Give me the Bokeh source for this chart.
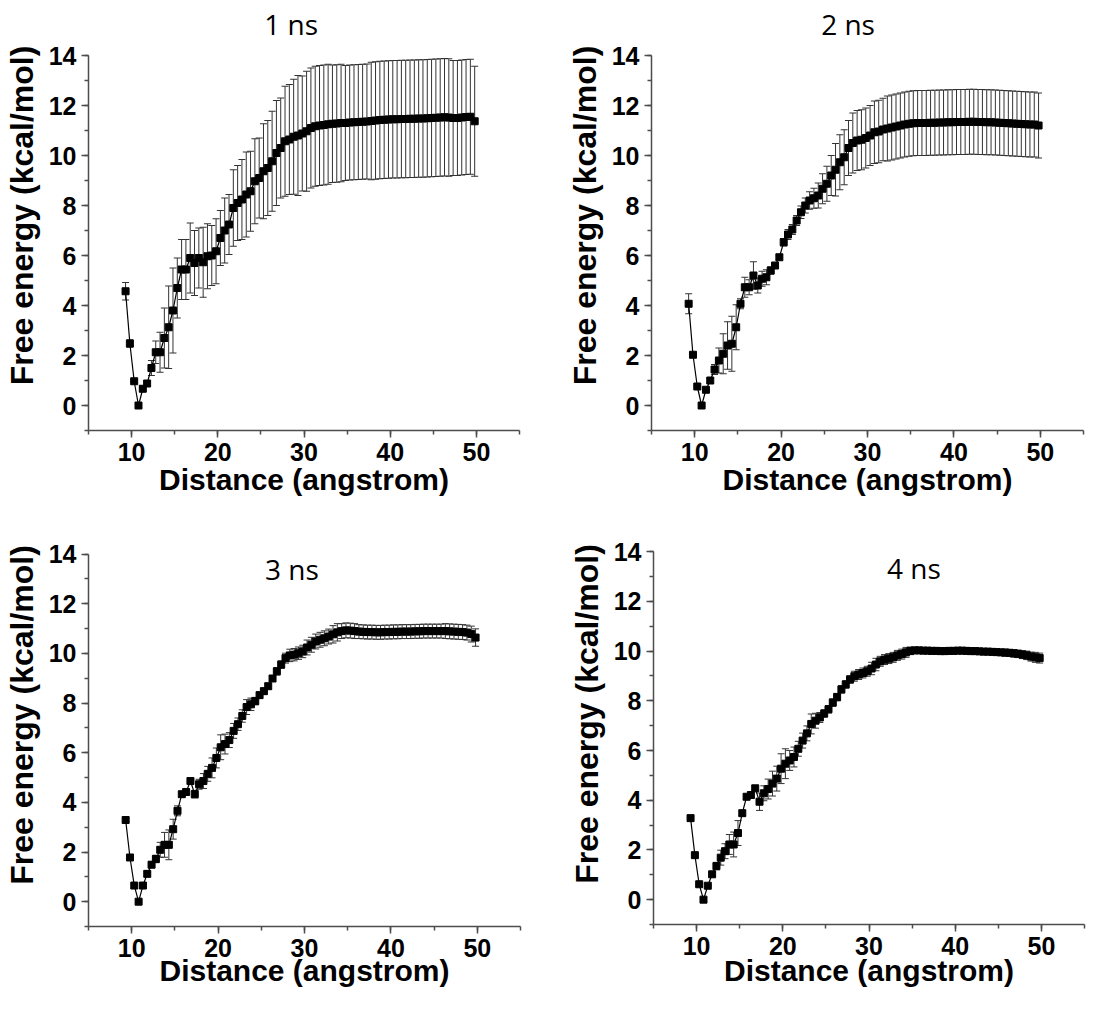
from bokeh.plotting import figure
from bokeh.models import (Range1d, SingleIntervalTicker, ColumnDataSource, Whisker,
                          TeeHead, Label)
from bokeh.layouts import row, column
from bokeh.embed import file_html
from bokeh.resources import INLINE

distance = [9.3, 9.8, 10.3, 10.8, 11.3, 11.8, 12.3, 12.8, 13.3, 13.8,
            14.3, 14.8, 15.3, 15.8, 16.3, 16.8, 17.3, 17.8, 18.3, 18.8,
            19.3, 19.8, 20.3, 20.8, 21.3, 21.8, 22.3, 22.8, 23.3, 23.8,
            24.3, 24.8, 25.3, 25.8, 26.3, 26.8, 27.3, 27.8, 28.3, 28.8,
            29.3, 29.8, 30.3, 30.8, 31.3, 31.8, 32.3, 32.8, 33.3, 33.8,
            34.3, 34.8, 35.3, 35.8, 36.3, 36.8, 37.3, 37.8, 38.3, 38.8,
            39.3, 39.8, 40.3, 40.8, 41.3, 41.8, 42.3, 42.8, 43.3, 43.8,
            44.3, 44.8, 45.3, 45.8, 46.3, 46.8, 47.3, 47.8, 48.3, 48.8,
            49.3, 49.8]

energy_1ns = [4.57, 2.48, 0.97, 0.0, 0.67, 0.88, 1.5, 2.13, 2.13, 2.7,
              3.13, 3.8, 4.7, 5.44, 5.44, 5.9, 5.7, 5.9, 5.73, 5.97,
              6.0, 6.17, 6.7, 7.0, 7.24, 7.9, 8.1, 8.24, 8.44, 8.57,
              8.97, 9.1, 9.37, 9.5, 9.77, 10.1, 10.3, 10.57, 10.64, 10.75,
              10.8, 10.88, 10.97, 11.1, 11.17, 11.2, 11.22, 11.25, 11.27, 11.28,
              11.3, 11.3, 11.32, 11.33, 11.34, 11.35, 11.36, 11.38, 11.4, 11.42,
              11.43, 11.44, 11.45, 11.45, 11.46, 11.46, 11.47, 11.47, 11.48, 11.48,
              11.49, 11.5, 11.51, 11.52, 11.53, 11.52, 11.5, 11.5, 11.52, 11.54,
              11.55, 11.37]
error_1ns = [0.35, 0.15, 0.05, 0.05, 0.08, 0.1, 0.3, 0.45, 0.8, 1.2,
             1.65, 1.7, 1.2, 1.2, 1.2, 1.4, 1.3, 1.2, 1.4, 1.3,
             1.2, 1.3, 1.1, 1.3, 1.2, 1.53, 1.5, 1.6, 1.7, 1.6,
             1.7, 1.6, 1.9, 1.9, 2.0, 2.1, 2.0, 2.2, 2.2, 2.3,
             2.4, 2.3, 2.4, 2.4, 2.4, 2.4, 2.4, 2.4, 2.35, 2.35,
             2.35, 2.3, 2.3, 2.3, 2.3, 2.3, 2.3, 2.35, 2.35, 2.35,
             2.35, 2.35, 2.35, 2.35, 2.35, 2.35, 2.35, 2.35, 2.35, 2.35,
             2.35, 2.35, 2.35, 2.35, 2.35, 2.35, 2.3, 2.3, 2.3, 2.3,
             2.3, 2.2]

energy_2ns = [4.07, 2.03, 0.76, 0.0, 0.63, 1.0, 1.44, 1.8, 2.07, 2.4,
              2.47, 3.13, 4.07, 4.73, 4.73, 5.2, 4.8, 5.07, 5.13, 5.4,
              5.6, 5.93, 6.53, 6.84, 7.04, 7.4, 7.73, 8.0, 8.2, 8.29,
              8.4, 8.67, 8.87, 9.2, 9.43, 9.73, 9.93, 10.3, 10.5, 10.6,
              10.63, 10.7, 10.8, 10.93, 10.96, 11.04, 11.08, 11.12, 11.16, 11.2,
              11.24, 11.27, 11.29, 11.3, 11.3, 11.3, 11.31, 11.31, 11.32, 11.32,
              11.33, 11.33, 11.34, 11.34, 11.34, 11.35, 11.35, 11.34, 11.34, 11.33,
              11.33, 11.32, 11.31, 11.3, 11.29, 11.28, 11.27, 11.26, 11.25, 11.24,
              11.24, 11.2]
error_2ns = [0.4, 0.05, 0.03, 0.03, 0.05, 0.08, 0.2, 0.5, 0.8, 0.95,
             1.1, 0.9, 0.2, 0.4, 0.3, 0.55, 0.3, 0.3, 0.3, 0.15,
             0.1, 0.1, 0.15, 0.2, 0.2, 0.2, 0.25, 0.3, 0.35, 0.4,
             0.5, 0.6, 0.7, 0.8, 1.05, 1.1, 1.1, 1.1, 1.2, 1.2,
             1.2, 1.2, 1.2, 1.25, 1.25, 1.25, 1.3, 1.3, 1.3, 1.3,
             1.3, 1.3, 1.3, 1.3, 1.3, 1.3, 1.3, 1.3, 1.3, 1.3,
             1.3, 1.3, 1.3, 1.3, 1.3, 1.3, 1.3, 1.3, 1.3, 1.3,
             1.3, 1.3, 1.3, 1.3, 1.3, 1.3, 1.3, 1.3, 1.3, 1.3,
             1.3, 1.3]

energy_3ns = [3.29, 1.78, 0.65, 0.0, 0.65, 1.12, 1.49, 1.72, 2.09, 2.29,
              2.29, 2.92, 3.66, 4.33, 4.42, 4.86, 4.33, 4.73, 4.86, 5.15,
              5.39, 5.79, 6.22, 6.35, 6.51, 6.88, 7.15, 7.48, 7.84, 7.95,
              8.08, 8.32, 8.48, 8.68, 8.99, 9.28, 9.55, 9.81, 9.92, 9.95,
              10.01, 10.08, 10.24, 10.35, 10.48, 10.55, 10.61, 10.68, 10.77, 10.85,
              10.9, 10.93, 10.92, 10.9, 10.88, 10.87, 10.86, 10.86, 10.85, 10.85,
              10.86, 10.86, 10.87, 10.87, 10.88, 10.88, 10.88, 10.89, 10.89, 10.9,
              10.9, 10.9, 10.9, 10.9, 10.9, 10.89, 10.88, 10.87, 10.86, 10.84,
              10.78, 10.64]
error_3ns = [0.05, 0.05, 0.03, 0.03, 0.05, 0.08, 0.12, 0.15, 0.3, 0.5,
             0.6, 0.4, 0.2, 0.1, 0.1, 0.1, 0.15, 0.2, 0.3, 0.3,
             0.4, 0.4, 0.5, 0.4, 0.3, 0.3, 0.25, 0.25, 0.3, 0.25,
             0.15, 0.12, 0.12, 0.12, 0.12, 0.15, 0.15, 0.2, 0.25, 0.25,
             0.25, 0.25, 0.3, 0.3, 0.3, 0.3, 0.3, 0.3, 0.35, 0.35,
             0.3, 0.3, 0.3, 0.3, 0.28, 0.28, 0.28, 0.28, 0.28, 0.28,
             0.28, 0.28, 0.28, 0.28, 0.28, 0.28, 0.28, 0.28, 0.28, 0.28,
             0.28, 0.28, 0.28, 0.28, 0.3, 0.3, 0.3, 0.3, 0.3, 0.3,
             0.32, 0.35]

energy_4ns = [3.28, 1.79, 0.62, 0.0, 0.56, 1.02, 1.35, 1.69, 1.95, 2.22,
              2.22, 2.68, 3.48, 4.14, 4.21, 4.48, 3.94, 4.28, 4.45, 4.67,
              4.87, 5.27, 5.47, 5.6, 5.74, 6.07, 6.4, 6.69, 7.07, 7.2,
              7.33, 7.49, 7.66, 7.93, 8.15, 8.46, 8.66, 8.86, 8.99, 9.06,
              9.12, 9.19, 9.3, 9.46, 9.59, 9.66, 9.7, 9.75, 9.83, 9.88,
              9.95, 10.01, 10.03, 10.03, 10.02, 10.02, 10.01, 10.01, 10.0, 10.0,
              10.01, 10.01, 10.02, 10.02, 10.01, 10.0, 10.0, 9.99, 9.98, 9.98,
              9.97, 9.96, 9.95, 9.94, 9.93, 9.91, 9.89, 9.86, 9.83, 9.78,
              9.75, 9.72]
error_4ns = [0.1, 0.05, 0.03, 0.03, 0.05, 0.08, 0.15, 0.3, 0.3, 0.4,
             0.5, 0.5, 0.1, 0.1, 0.1, 0.1, 0.35, 0.3, 0.4, 0.5,
             0.5, 0.6, 0.6, 0.4, 0.4, 0.3, 0.3, 0.3, 0.4, 0.3,
             0.2, 0.15, 0.15, 0.15, 0.15, 0.15, 0.15, 0.15, 0.2, 0.2,
             0.2, 0.2, 0.25, 0.25, 0.2, 0.2, 0.2, 0.2, 0.2, 0.2,
             0.2, 0.15, 0.12, 0.12, 0.12, 0.12, 0.12, 0.12, 0.12, 0.12,
             0.12, 0.12, 0.12, 0.12, 0.12, 0.12, 0.12, 0.12, 0.12, 0.12,
             0.12, 0.12, 0.12, 0.14, 0.14, 0.15, 0.15, 0.16, 0.17, 0.18,
             0.2, 0.2]

titles = ["1 ns", "2 ns", "3 ns", "4 ns"]
title_pos = [(28.5, 15.28), (27.75, 15.28), (28.55, 13.41), (35.2, 13.35)]
x_label = "Distance (angstrom)"
y_label = "Free energy (kcal/mol)"

# panel geometry: (border_left, frame_w, border_right, y_top, frame_h,
#                  border_bottom, x_label_standoff)
geom = [
    (86, 431, 32, 16.2, 430, 73, -1),
    (100, 432, 20, 16.2, 430, 73, -1),
    (81, 432, 36, 16.04, 423, 68, -6),
    (97, 431, 24, 15.94, 421, 70, -4),
]

AXIS_COLOR = "#4d4d4d"
BAR_COLOR = "#333333"


def make_panel(energy, error, title, tpos, g):
    bl, fw, br, ytop, fh, bb, xls = g
    p = figure(frame_width=fw, frame_height=fh, output_backend="svg",
               toolbar_location=None,
               x_range=Range1d(5, 55), y_range=Range1d(-1, ytop),
               min_border_left=bl, min_border_top=0,
               min_border_right=br, min_border_bottom=bb)
    p.outline_line_color = None
    p.xgrid.visible = False
    p.ygrid.visible = False
    p.background_fill_color = "white"
    p.border_fill_color = "white"

    upper = [e + d for e, d in zip(energy, error)]
    lower = [e - d for e, d in zip(energy, error)]
    src = ColumnDataSource(dict(x=distance, y=energy, upper=upper, lower=lower))

    wh = Whisker(source=src, base="x", upper="upper", lower="lower",
                 dimension="height", line_color=BAR_COLOR, line_width=1,
                 upper_head=TeeHead(size=7, line_color=BAR_COLOR, line_width=1),
                 lower_head=TeeHead(size=7, line_color=BAR_COLOR, line_width=1))
    p.add_layout(wh)
    p.line("x", "y", source=src, line_color="black", line_width=1.2)
    p.scatter("x", "y", source=src, marker="square", size=7,
              fill_color="black", line_color="black")

    p.xaxis.ticker = SingleIntervalTicker(interval=10, num_minor_ticks=2)
    p.yaxis.ticker = SingleIntervalTicker(interval=2, num_minor_ticks=2)
    p.yaxis.bounds = (-1, 14)
    for ax in (p.xaxis[0], p.yaxis[0]):
        ax.axis_line_color = AXIS_COLOR
        ax.axis_line_width = 1.5
        ax.major_tick_line_color = AXIS_COLOR
        ax.minor_tick_line_color = AXIS_COLOR
        ax.major_tick_line_width = 1.5
        ax.minor_tick_line_width = 1.5
        ax.major_tick_out = 7
        ax.major_tick_in = 0
        ax.minor_tick_out = 4
        ax.minor_tick_in = 0
        ax.major_label_text_font = "Liberation Sans"
        ax.major_label_text_font_style = "bold"
        ax.major_label_text_font_size = "25px"
        ax.major_label_text_color = "black"
        ax.axis_label_text_font = "Liberation Sans"
        ax.axis_label_text_font_style = "bold"
        ax.axis_label_text_color = "black"
        ax.major_label_standoff = 5
    p.xaxis.axis_label = x_label
    p.xaxis.axis_label_text_font_size = "30px"
    p.xaxis.axis_label_standoff = xls
    p.yaxis.axis_label = y_label
    p.yaxis.axis_label_text_font_size = "32px"
    p.yaxis.axis_label_standoff = 6

    p.add_layout(Label(x=tpos[0], y=tpos[1], text=title, text_font="Open Sans",
                       text_font_size="28px", text_align="center",
                       text_baseline="middle", text_color="black"))
    return p


panels = [make_panel(e, r, t, tp, g) for e, r, t, tp, g in zip(
    [energy_1ns, energy_2ns, energy_3ns, energy_4ns],
    [error_1ns, error_2ns, error_3ns, error_4ns],
    titles, title_pos, geom)]

layout = column(row(panels[0], panels[1]), row(panels[2], panels[3]))

open("out.html", "w").write(file_html(layout, INLINE))
